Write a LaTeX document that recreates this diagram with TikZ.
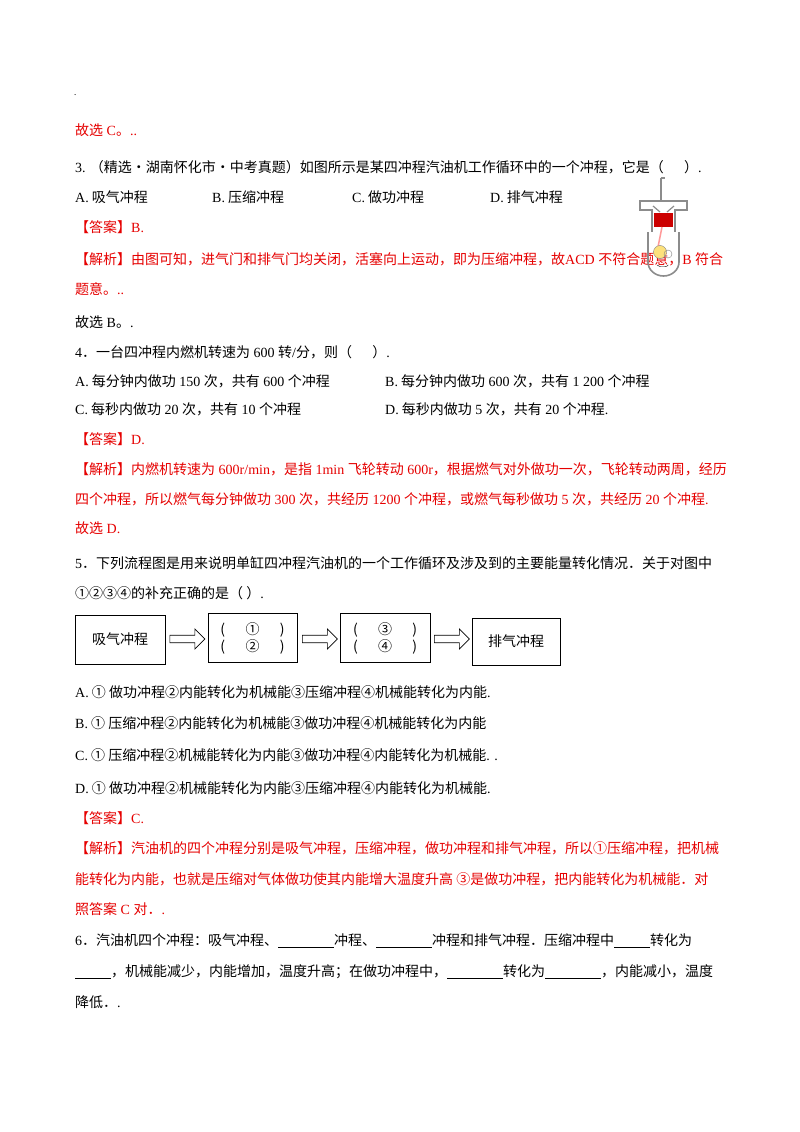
\documentclass[tikz,border=0pt]{standalone}
\usepackage{fontspec}
\setmainfont{Noto Sans CJK SC}
\newfontfamily\lat{Liberation Serif}
\usetikzlibrary{shapes.arrows}
\newcommand{\Lt}[1]{{\lat #1}}
\newcommand{\bl}[1]{\rule[-2pt]{#1pt}{0.6pt}}
\begin{document}
\begin{tikzpicture}[x=1pt,y=-1pt,
  t/.style={anchor=west,inner sep=0,font=\fontsize{14}{14}\selectfont},
  r/.style={t,text={rgb,255:red,230;green,0;blue,0}},
  box/.style={draw,line width=0.8pt,minimum height=49pt,font=\fontsize{14}{17}\selectfont},
  harr/.style={single arrow,draw,line width=0.7pt,minimum height=35pt,minimum width=20pt,single arrow head extend=4pt,inner sep=2pt}]
\useasboundingbox (0,0) rectangle (800,1132);
\fill[white] (0,0) rectangle (800,1132);
\node[t,font=\fontsize{8}{8}\selectfont] (dot) at (74,95) {.};
\node[r] (l1) at (75,130) {故选\Lt{ C}。\Lt{..}};
\node[t] (l2) at (75,167) {\Lt{3.} （精选·湖南怀化市·中考真题）如图所示是某四冲程汽油机工作循环中的一个冲程，它是（\quad\ \ ）\Lt{.}};
\node[t] (l3a) at (75,197) {\Lt{A.} 吸气冲程};
\node[t] (l3b) at (212,197) {\Lt{B.} 压缩冲程};
\node[t] (l3c) at (352,197) {\Lt{C.} 做功冲程};
\node[t] (l3d) at (490,197) {\Lt{D.} 排气冲程};
\node[r] (l4) at (75,227) {【答案】\Lt{B.}};
\node[r] (l5) at (75,259) {【解析】由图可知，进气门和排气门均关闭，活塞向上运动，即为压缩冲程，故\Lt{ACD }不符合题意，\Lt{B }符合};
\node[r] (l6) at (75,289) {题意。\Lt{..}};
\node[t] (l7) at (75,322) {故选\Lt{ B}。\Lt{.}};
% engine
\begin{scope}[line width=2.4pt,draw={rgb,255:red,140;green,140;blue,140}]
  \draw[line width=1.2pt] (661,178) -- (661,200) (661,178) -- (665,178);
  \draw (640,201) -- (687,201) (640,200)--(640,211) (687,200)--(687,211);
  \draw (640,210) -- (652,210) -- (652,232) (687,210) -- (675,210) -- (675,232);
  \draw[line width=1.6pt] (648,232) -- (648,262) (679,232) -- (679,262);
  \draw[line width=1.6pt] (648,262) arc (180:0:15.5 and 14);
  \draw[line width=1.2pt] (653,206)--(660,212) (674,206)--(667,212);
\end{scope}
\fill[red!80!black] (654,213) rectangle (673,227);
\draw[red!40,line width=1.5pt] (662,227) -- (658,247);
\fill[yellow!60!orange!50] (660,252) circle (6.5);
\draw[gray] (660,252) circle (6.5);
\draw[gray] (668,254) circle (4);
\draw (657,265) arc (160:20:6 and 3);
\node[t] (l8) at (75,352) {\Lt{4}．一台四冲程内燃机转速为\Lt{ 600 }转\Lt{/}分，则（\quad\ \ ）\Lt{.}};
\node[t] (l9a) at (75,381) {\Lt{A.} 每分钟内做功\Lt{ 150 }次，共有\Lt{ 600 }个冲程};
\node[t] (l9b) at (385,381) {\Lt{B.} 每分钟内做功\Lt{ 600 }次，共有\Lt{ 1 200 }个冲程};
\node[t] (l10a) at (75,409) {\Lt{C.} 每秒内做功\Lt{ 20 }次，共有\Lt{ 10 }个冲程};
\node[t] (l10b) at (385,409) {\Lt{D.} 每秒内做功\Lt{ 5 }次，共有\Lt{ 20 }个冲程\Lt{.}};
\node[r] (l11) at (75,439) {【答案】\Lt{D.}};
\node[r] (l12) at (75,469) {【解析】内燃机转速为\Lt{ 600r/min}，是指\Lt{ 1min }飞轮转动\Lt{ 600r}，根据燃气对外做功一次，飞轮转动两周，经历};
\node[r] (l13) at (75,499) {四个冲程，所以燃气每分钟做功\Lt{ 300 }次，共经历\Lt{ 1200 }个冲程，或燃气每秒做功\Lt{ 5 }次，共经历\Lt{ 20 }个冲程\Lt{.}};
\node[r] (l14) at (75,528) {故选\Lt{ D.}};
\node[t] (l15) at (75,563) {\Lt{5}．下列流程图是用来说明单缸四冲程汽油机的一个工作循环及涉及到的主要能量转化情况．关于对图中};
\node[t] (l16) at (75,593) {①②③④的补充正确的是（\ ）\Lt{.}};
% flow chart
\node[box,minimum width=90pt] (b1) at (120,639.5) {吸气冲程};
\node[box,minimum width=89pt,align=center] (b2) at (252.5,638) {(\quad\ \ ①\quad\ \ )\\(\quad\ \ ②\quad\ \ )};
\node[box,minimum width=90pt,align=center] (b3) at (385,638) {(\quad\ \ ③\quad\ \ )\\(\quad\ \ ④\quad\ \ )};
\node[box,minimum width=88pt,minimum height=47pt] (b4) at (516,641.5) {排气冲程};
\node[harr] (a1) at (185.5,639) {};
\node[harr] (a2) at (318,639) {};
\node[harr] (a3) at (450,639) {};
\node[t] (l17) at (75,692) {\Lt{A.} ① 做功冲程②内能转化为机械能③压缩冲程④机械能转化为内能\Lt{.}};
\node[t] (l18) at (75,723) {\Lt{B.} ① 压缩冲程②内能转化为机械能③做功冲程④机械能转化为内能};
\node[t] (l19) at (75,755) {\Lt{C.} ① 压缩冲程②机械能转化为内能③做功冲程④内能转化为机械能\Lt{. .}};
\node[t] (l20) at (75,788) {\Lt{D.} ① 做功冲程②机械能转化为内能③压缩冲程④内能转化为机械能\Lt{.}};
\node[r] (l21) at (75,818) {【答案】\Lt{C.}};
\node[r] (l22) at (75,848) {【解析】汽油机的四个冲程分别是吸气冲程，压缩冲程，做功冲程和排气冲程，所以①压缩冲程，把机械};
\node[r] (l23) at (75,879) {能转化为内能，也就是压缩对气体做功使其内能增大温度升高\ ③是做功冲程，把内能转化为机械能．对};
\node[r] (l24) at (75,909) {照答案\Lt{ C }对．\Lt{.}};
\node[t] (l25) at (75,941) {\Lt{6}．汽油机四个冲程：吸气冲程、\bl{56}冲程、\bl{56}冲程和排气冲程．压缩冲程中\bl{36}转化为};
\node[t] (l26) at (75,972) {\bl{36}，机械能减少，内能增加，温度升高；在做功冲程中，\bl{56}转化为\bl{56}，内能减小，温度};
\node[t] (l27) at (75,1002) {降低．\Lt{.}};
\end{tikzpicture}
\end{document}
